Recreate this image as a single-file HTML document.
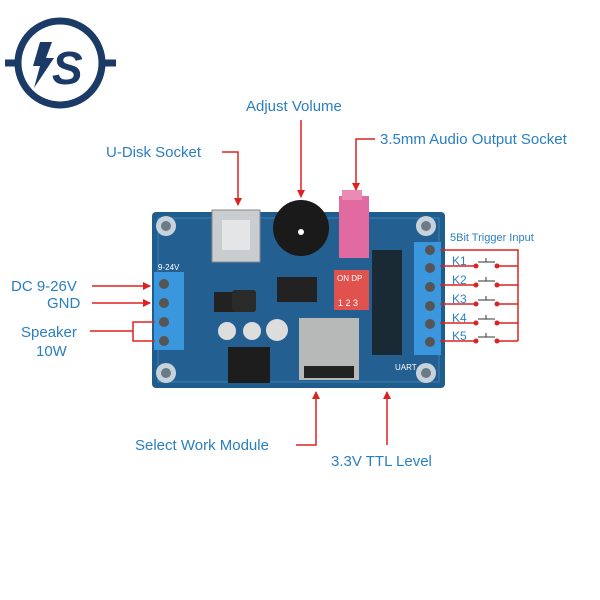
<!DOCTYPE html>
<html><head><style>
html,body{margin:0;padding:0;background:#fff;}
svg{display:block;}
text{font-family:"Liberation Sans",sans-serif;fill:#2a7fc0;}
</style></head><body>
<svg width="600" height="600" viewBox="0 0 600 600">
<defs>
<marker id="ar" markerWidth="8" markerHeight="8" refX="7" refY="4" orient="auto" markerUnits="userSpaceOnUse"><path d="M0,0 L8,4 L0,8z" fill="#d22"/></marker>
</defs>
<!-- logo -->
<g stroke="#1b3a66" fill="none">
<circle cx="60" cy="63" r="42" stroke-width="7"/>
<line x1="5" y1="63" x2="18" y2="63" stroke-width="7"/>
<line x1="102" y1="63" x2="116" y2="63" stroke-width="7"/>
</g>
<path d="M40,42 L52,42 L46,58 L54,58 L34,88 L40,66 L33,66z" fill="#1b3a66"/>
<text x="52" y="84" font-size="46" font-weight="bold" font-style="italic" style="fill:#1b3a66">S</text>

<!-- board -->
<rect x="152" y="212" width="293" height="176" rx="4" fill="#1f5d8f"/>
<rect x="158" y="218" width="281" height="164" fill="#245f92" stroke="#3b7fb0" stroke-width="1"/>
<g fill="#c8d2da"><circle cx="166" cy="226" r="10"/><circle cx="166" cy="373" r="10"/><circle cx="426" cy="226" r="10"/><circle cx="426" cy="373" r="10"/></g>
<g fill="#6a7a88"><circle cx="166" cy="226" r="5"/><circle cx="166" cy="373" r="5"/><circle cx="426" cy="226" r="5"/><circle cx="426" cy="373" r="5"/></g>
<!-- usb -->
<rect x="212" y="210" width="48" height="52" fill="#c9cdd0" stroke="#888"/>
<rect x="222" y="220" width="28" height="30" fill="#e3e5e6"/>
<!-- pot -->
<circle cx="301" cy="228" r="28" fill="#1a1a1a"/>
<circle cx="301" cy="232" r="3" fill="#fff"/>
<!-- audio jack -->
<rect x="339" y="196" width="30" height="62" fill="#e16aa0"/>
<rect x="342" y="190" width="20" height="10" fill="#eb8ab4"/>
<!-- dip -->
<rect x="334" y="270" width="35" height="40" fill="#e0524e"/>
<text x="337" y="281" font-size="8" style="fill:#fff">ON DP</text>
<text x="338" y="306" font-size="9" style="fill:#fff">1 2 3</text>
<!-- chips -->
<rect x="277" y="277" width="40" height="25" fill="#222"/>
<rect x="214" y="292" width="24" height="20" fill="#222"/>
<rect x="232" y="290" width="24" height="22" fill="#2a2a2a" rx="3"/>
<rect x="228" y="347" width="42" height="36" fill="#1d1d1d"/>
<rect x="372" y="250" width="30" height="105" fill="#1a2a35"/>
<g fill="#ddd"><circle cx="227" cy="331" r="9"/><circle cx="252" cy="331" r="9"/><circle cx="277" cy="330" r="11"/></g>
<!-- SD -->
<rect x="299" y="318" width="60" height="62" fill="#b7b8b8"/>
<rect x="304" y="366" width="50" height="12" fill="#222"/>
<text x="395" y="370" font-size="8" style="fill:#fff">UART</text>
<!-- terminals -->
<rect x="154" y="272" width="30" height="78" fill="#3a96dd"/>
<g fill="#555"><circle cx="164" cy="284" r="5"/><circle cx="164" cy="303" r="5"/><circle cx="164" cy="322" r="5"/><circle cx="164" cy="341" r="5"/></g>
<text x="158" y="270" font-size="8" style="fill:#fff">9-24V</text>
<rect x="414" y="242" width="27" height="113" fill="#3a96dd"/>
<g fill="#555"><circle cx="430" cy="250" r="5"/><circle cx="430" cy="268" r="5"/><circle cx="430" cy="287" r="5"/><circle cx="430" cy="306" r="5"/><circle cx="430" cy="324" r="5"/><circle cx="430" cy="342" r="5"/></g>

<!-- annotations -->
<g stroke="#d22" stroke-width="1.5" fill="none">
<polyline points="222,152 238,152 238,205" marker-end="url(#ar)"/>
<line x1="301" y1="120" x2="301" y2="197" marker-end="url(#ar)"/>
<polyline points="375,139 356,139 356,190" marker-end="url(#ar)"/>
<line x1="92" y1="286" x2="150" y2="286" marker-end="url(#ar)"/>
<line x1="92" y1="303" x2="150" y2="303" marker-end="url(#ar)"/>
<line x1="90" y1="331" x2="133" y2="331"/>
<polyline points="155,322 133,322 133,341 155,341"/>
<polyline points="296,445 316,445 316,392" marker-end="url(#ar)"/>
<line x1="387" y1="445" x2="387" y2="392" marker-end="url(#ar)"/>
<polyline points="440,250 518,250 518,341"/>
<g>
<polyline points="440,266 476,266"/><polyline points="497,266 518,266"/>
<polyline points="440,285 476,285"/><polyline points="497,285 518,285"/>
<polyline points="440,304 476,304"/><polyline points="497,304 518,304"/>
<polyline points="440,323 476,323"/><polyline points="497,323 518,323"/>
<polyline points="440,341 476,341"/><polyline points="497,341 518,341"/>
</g>
<g stroke="#333" stroke-width="1">
<polyline points="478,262 495,262"/><line x1="486" y1="262" x2="486" y2="258"/>
<polyline points="478,281 495,281"/><line x1="486" y1="281" x2="486" y2="277"/>
<polyline points="478,300 495,300"/><line x1="486" y1="300" x2="486" y2="296"/>
<polyline points="478,319 495,319"/><line x1="486" y1="319" x2="486" y2="315"/>
<polyline points="478,337 495,337"/><line x1="486" y1="337" x2="486" y2="333"/>
</g>
</g>
<g fill="#d22"><circle cx="476" cy="266" r="2.5"/><circle cx="497" cy="266" r="2.5"/><circle cx="476" cy="285" r="2.5"/><circle cx="497" cy="285" r="2.5"/><circle cx="476" cy="304" r="2.5"/><circle cx="497" cy="304" r="2.5"/><circle cx="476" cy="323" r="2.5"/><circle cx="497" cy="323" r="2.5"/><circle cx="476" cy="341" r="2.5"/><circle cx="497" cy="341" r="2.5"/></g>

<text x="246" y="111" font-size="15">Adjust Volume</text>
<text x="106" y="157" font-size="15">U-Disk Socket</text>
<text x="380" y="144" font-size="15">3.5mm Audio Output Socket</text>
<text x="450" y="241" font-size="11">5Bit Trigger Input</text>
<text x="452" y="265" font-size="12">K1</text>
<text x="452" y="284" font-size="12">K2</text>
<text x="452" y="303" font-size="12">K3</text>
<text x="452" y="322" font-size="12">K4</text>
<text x="452" y="340" font-size="12">K5</text>
<text x="11" y="291" font-size="15">DC 9-26V</text>
<text x="47" y="308" font-size="15">GND</text>
<text x="21" y="337" font-size="15">Speaker</text>
<text x="36" y="356" font-size="15">10W</text>
<text x="135" y="450" font-size="15">Select Work Module</text>
<text x="331" y="466" font-size="15">3.3V TTL Level</text>
</svg>
</body></html>
